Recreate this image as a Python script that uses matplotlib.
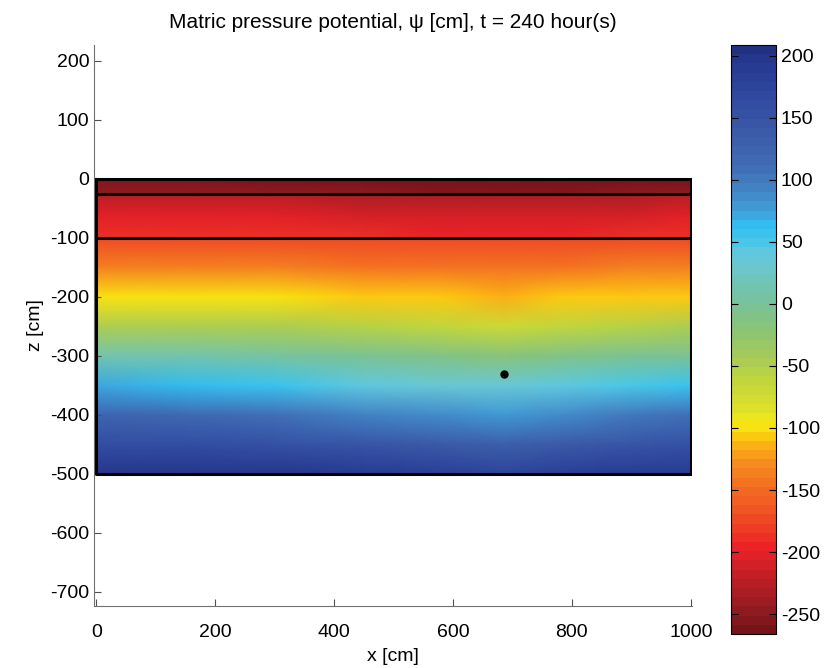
import numpy as np
import matplotlib
matplotlib.use('Agg')
import matplotlib.pyplot as plt
from matplotlib.colors import LinearSegmentedColormap, Normalize

# x positions of the sampled columns [cm]
x_nodes = [0, 150, 300, 450, 580, 685, 780, 900, 1000]

# top layer (0 .. -25 cm)
z_top = [0, -25]
psi_top = [
    [-258, -258, -259, -261, -262, -262, -262, -261, -260],
    [-248, -248, -249, -251, -252, -252, -252, -251, -250],
]

# second layer (-25 .. -100 cm)
z_mid = [-25, -62, -100]
psi_mid = [
    [-226, -226, -228, -232, -234, -234, -232, -230, -228],
    [-206, -206, -206, -208, -210, -210, -209, -207, -206],
    [-188, -188, -189, -191, -194, -195, -193, -190, -189],
]

# lower layer (-100 .. -500 cm)
z_low = [-100, -150, -200, -250, -300, -350, -400, -450, -500]
psi_low = [
    [-172, -172, -172, -173, -176, -177, -175, -173, -172],
    [-135, -135, -136, -140, -143, -145, -142, -139, -137],
    [-100, -100, -102, -108, -110, -112, -110, -106, -104],
    [-45, -46, -48, -56, -62, -68, -62, -54, -50],
    [12, 10, 5, -5, -12, -15, -10, -2, 0],
    [70, 66, 58, 44, 36, 32, 38, 50, 54],
    [120, 117, 110, 96, 86, 78, 88, 100, 105],
    [162, 160, 155, 146, 138, 130, 140, 148, 150],
    [200, 199, 198, 190, 180, 175, 182, 188, 190],
]

layer_bounds = [-25, -100]
point_x, point_z = 685, -330
psi_min, psi_max = -266, 208.5

# colour map (value, colour)
cmap_vals = [-266, -250, -230, -210, -200, -185, -165, -150, -130, -115, -105, -98,
             -85, -65, -45, -25, -5, 10, 25, 40, 55, 65, 75, 90, 110, 140, 170, 200, 208.5]
cmap_cols = ['#76141a', '#901b20', '#b31e24', '#d92027', '#ec1f26', '#ee3a24', '#f05a24',
             '#f26c22', '#f68d1f', '#fbb116', '#fdd20f', '#f5ea14', '#dfe02a', '#c4d73a',
             '#a8cc55', '#90c56f', '#7cc28f', '#74c4a9', '#6ec6c4', '#66c8dc', '#3ec6ee',
             '#33bdf0', '#3fa2da', '#4389c8', '#416fb6', '#3b5aa8', '#3049a0', '#25378f', '#22317f']
pos = [(v - psi_min) / (psi_max - psi_min) for v in cmap_vals]
cmap = LinearSegmentedColormap.from_list('psi', list(zip(pos, cmap_cols)), N=64)
norm = Normalize(psi_min, psi_max)

plt.rcParams['font.family'] = ['Liberation Sans', 'DejaVu Sans']
plt.rcParams['axes.unicode_minus'] = False
fig = plt.figure(figsize=(8.29, 6.68), dpi=100)
ax = fig.add_axes([94 / 829, (668 - 606) / 668, 598 / 829, 561 / 668])

for zz, cc in [(z_top, psi_top), (z_mid, psi_mid), (z_low, psi_low)]:
    X, Z = np.meshgrid(x_nodes, zz)
    ax.pcolormesh(X, Z, np.array(cc, float), shading='gouraud', cmap=cmap, norm=norm)

# domain outline and layer boundaries
ax.plot([0, 1000, 1000, 0, 0], [0, 0, -500, -500, 0], color='black', lw=2.2)
for zb in layer_bounds:
    ax.plot([0, 1000], [zb, zb], color='black', lw=2.2)
ax.plot(point_x, point_z, 'o', color='black', ms=5)

ax.set_xlim(-4, 1002)
ax.set_ylim(-724, 227)
ax.set_xticks(range(0, 1001, 200))
ax.set_yticks(range(-700, 201, 100))
for s in ['top', 'right']:
    ax.spines[s].set_visible(False)
for s in ['left', 'bottom']:
    ax.spines[s].set_color('#707070')
ax.tick_params(direction='in', length=5, color='#505050', labelsize=14)
ax.tick_params(axis='x', pad=13)
ax.set_xlabel('x [cm]', fontsize=14, labelpad=5)
ax.set_ylabel('z [cm]', fontsize=14, labelpad=4)
ax.set_title('Matric pressure potential, \u03c8 [cm], t = 240 hour(s)', fontsize=15, pad=12)

cax = fig.add_axes([731 / 829, (668 - 634) / 668, 45 / 829, 589 / 668])
sm = plt.cm.ScalarMappable(norm=norm, cmap=cmap)
cb = fig.colorbar(sm, cax=cax, ticks=range(-250, 201, 50))
cb.outline.set_linewidth(0.8)
cax.tick_params(direction='in', length=5, left=True, right=True, labelsize=14)

fig.savefig('out.png', dpi=100)
